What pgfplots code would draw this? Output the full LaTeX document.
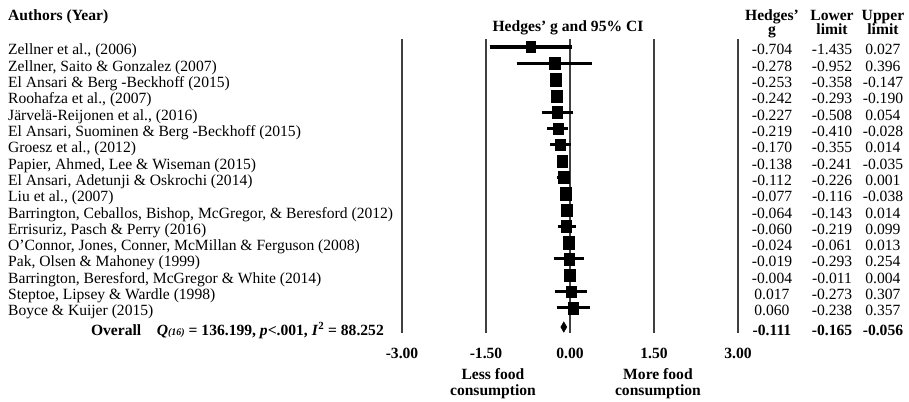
\documentclass[border=0pt]{standalone}
\usepackage{pgfplots}
\usepackage{pgfplotstable}
\pgfplotsset{compat=1.18}
\usepackage{fontspec}
\setmainfont{Liberation Serif}

% row, Hedges' g, lower limit, upper limit, marker half-size (bp)
\pgfplotstableread{
row g lo hi s
1 -0.704 -1.435 0.027 4.8
2 -0.278 -0.952 0.396 5.3
3 -0.253 -0.358 -0.147 5.4
4 -0.242 -0.293 -0.190 5.4
5 -0.227 -0.508 0.054 5.3
6 -0.219 -0.410 -0.028 5.0
7 -0.170 -0.355 0.014 5.0
8 -0.138 -0.241 -0.035 5.4
9 -0.112 -0.226 0.001 5.4
10 -0.077 -0.116 -0.038 5.4
11 -0.064 -0.143 0.014 5.4
12 -0.060 -0.219 0.099 5.0
13 -0.024 -0.061 0.013 5.4
14 -0.019 -0.293 0.254 5.2
15 -0.004 -0.011 0.004 5.4
16 0.017 -0.273 0.307 5.0
17 0.060 -0.238 0.357 5.2
}\studies

\pgfplotstableread{
row g lo hi
18.18 -0.111 -0.165 -0.056
}\overall

\newcommand{\fs}{\fontsize{15.6bp}{16bp}\selectfont}

\begin{document}
\begin{tikzpicture}
\begin{axis}[
    scale only axis,
    width=909bp, height=402bp,
    xmin=-10.179, xmax=6.054,
    ymin=-1.883, ymax=22.779,
    y dir=reverse,
    axis line style={draw=none},
    ticks=none,
    clip=false,
    every node near coord/.append style={anchor=base, yshift=-8bp, font=\fs},
]

% reference lines
\addplot[black!75, line width=1.8pt] coordinates {(-3,0.509) (-3,18.55)};
\addplot[black!75, line width=1.8pt] coordinates {(-1.5,0.509) (-1.5,18.55)};
\addplot[black!75, line width=1.5pt] coordinates {(0,0.509) (0,18.55)};
\addplot[black!75, line width=1.8pt] coordinates {(1.5,0.509) (1.5,18.55)};
\addplot[black!75, line width=1.8pt] coordinates {(3,0.509) (3,18.55)};

% confidence intervals (segments from lower to upper limit)
\addplot[black, mark=none, line width=3.2pt,
    quiver={u=\thisrow{hi}-\thisrow{lo}, v=0}]
    table[x=lo, y=row] \studies;

% point estimates
\addplot[scatter, only marks, mark=square*,
    scatter/use mapped color={draw=black, fill=black},
    mark options={yscale=1.15, line width=0.4pt},
    visualization depends on={\thisrow{s} \as \ms},
    scatter/@pre marker code/.append style={/tikz/mark size=\ms}]
    table[x=g, y=row] \studies;

% overall diamond
\addplot[fill=black, draw=black] coordinates
    {(-0.165,18.18) (-0.111,17.86) (-0.056,18.18) (-0.111,18.50)} -- cycle;

% right-hand columns
\addplot[draw=none, mark=none, nodes near coords, point meta=explicit symbolic]
    table[x expr=3.607, y=row, meta=g] \studies;
\addplot[draw=none, mark=none, nodes near coords, point meta=explicit symbolic]
    table[x expr=4.679, y=row, meta=lo] \studies;
\addplot[draw=none, mark=none, nodes near coords, point meta=explicit symbolic]
    table[x expr=5.589, y=row, meta=hi] \studies;
\addplot[draw=none, mark=none, nodes near coords, point meta=explicit symbolic,
    every node near coord/.append style={font=\fs\bfseries}]
    table[x expr=3.607, y=row, meta=g] \overall;
\addplot[draw=none, mark=none, nodes near coords, point meta=explicit symbolic,
    every node near coord/.append style={font=\fs\bfseries}]
    table[x expr=4.679, y=row, meta=lo] \overall;
\addplot[draw=none, mark=none, nodes near coords, point meta=explicit symbolic,
    every node near coord/.append style={font=\fs\bfseries}]
    table[x expr=5.589, y=row, meta=hi] \overall;

% headers
\begin{scope}[every node/.style={font=\fs\bfseries, inner sep=0pt}]
\node[anchor=base west] at (axis cs:-10.036,-0.656) {Authors (Year)};
\node[anchor=base] at (axis cs:-0.036,0.08) {Hedges' g and 95\% CI};
\node[anchor=base] at (axis cs:3.607,-0.656) {Hedges'};
\node[anchor=base] at (axis cs:3.607,0.264) {g};
\node[anchor=base] at (axis cs:4.679,-0.656) {Lower};
\node[anchor=base] at (axis cs:4.679,0.264) {limit};
\node[anchor=base] at (axis cs:5.589,-0.656) {Upper};
\node[anchor=base] at (axis cs:5.589,0.264) {limit};
% tick labels
\node[anchor=base] at (axis cs:-3,20.12) {-3.00};
\node[anchor=base] at (axis cs:-1.5,20.12) {-1.50};
\node[anchor=base] at (axis cs:0,20.12) {0.00};
\node[anchor=base] at (axis cs:1.5,20.12) {1.50};
\node[anchor=base] at (axis cs:3,20.12) {3.00};
\node[anchor=base] at (axis cs:-1.375,21.37) {Less food};
\node[anchor=base] at (axis cs:-1.375,22.35) {consumption};
\node[anchor=base] at (axis cs:1.571,21.37) {More food};
\node[anchor=base] at (axis cs:1.571,22.35) {consumption};
\node[anchor=base east, yshift=-8bp] at (axis cs:-3.321,18.18)
    {Overall\quad \textit{Q}\raisebox{-0.1ex}{\fontsize{10bp}{10bp}\selectfont\textit{(16)}} = 136.199, \textit{p}<.001, \textit{I}\textsuperscript{2} = 88.252};
\end{scope}

% study names
\begin{scope}[every node/.style={font=\fs, inner sep=0pt, anchor=base west, yshift=-8bp}]
\node at (axis cs:-10.036,1) {Zellner et al., (2006)};
\node at (axis cs:-10.036,2) {Zellner, Saito \& Gonzalez (2007)};
\node at (axis cs:-10.036,3) {El Ansari \& Berg -Beckhoff (2015)};
\node at (axis cs:-10.036,4) {Roohafza et al., (2007)};
\node at (axis cs:-10.036,5) {Järvelä-Reijonen et al., (2016)};
\node at (axis cs:-10.036,6) {El Ansari, Suominen \& Berg -Beckhoff (2015)};
\node at (axis cs:-10.036,7) {Groesz et al., (2012)};
\node at (axis cs:-10.036,8) {Papier, Ahmed, Lee \& Wiseman (2015)};
\node at (axis cs:-10.036,9) {El Ansari, Adetunji \& Oskrochi (2014)};
\node at (axis cs:-10.036,10) {Liu et al., (2007)};
\node at (axis cs:-10.036,11) {Barrington, Ceballos, Bishop, McGregor, \& Beresford (2012)};
\node at (axis cs:-10.036,12) {Errisuriz, Pasch \& Perry (2016)};
\node at (axis cs:-10.036,13) {O'Connor, Jones, Conner, McMillan \& Ferguson (2008)};
\node at (axis cs:-10.036,14) {Pak, Olsen \& Mahoney (1999)};
\node at (axis cs:-10.036,15) {Barrington, Beresford, McGregor \& White (2014)};
\node at (axis cs:-10.036,16) {Steptoe, Lipsey \& Wardle (1998)};
\node at (axis cs:-10.036,17) {Boyce \& Kuijer (2015)};
\end{scope}
\end{axis}
\end{tikzpicture}
\end{document}
